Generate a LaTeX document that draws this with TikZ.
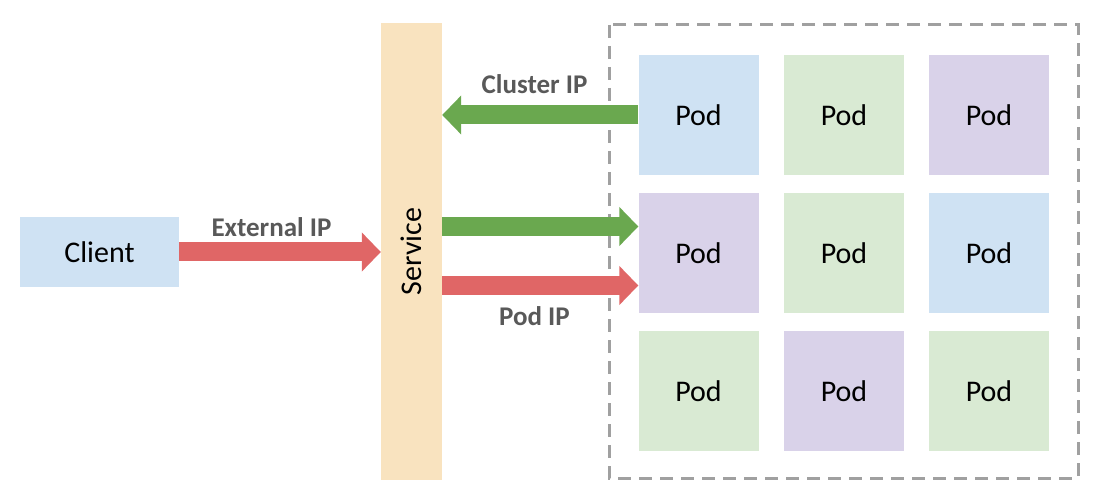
\documentclass[tikz,border=0pt]{standalone}
\usepackage{fontspec}
\setmainfont{Carlito}
\usetikzlibrary{arrows.meta,calc}
\definecolor{cblue}{HTML}{CFE2F3}
\definecolor{cgreen}{HTML}{D9EAD3}
\definecolor{cpurple}{HTML}{D9D2E9}
\definecolor{corange}{HTML}{F9E3BF}
\definecolor{ared}{HTML}{E06666}
\definecolor{agreen}{HTML}{6AA84F}
\definecolor{lblgray}{HTML}{595959}
\definecolor{dgray}{HTML}{A0A0A0}
\tikzset{
  box/.style={draw=none, minimum width=120pt, minimum height=120pt, inner sep=0pt, font=\fontsize{30}{36}\selectfont, text depth=0pt},
  fatarrow/.style={line width=19pt, -{Triangle[length=19pt,width=38pt]}},
  lbl/.style={font=\fontsize{27}{32}\selectfont\bfseries, text=lblgray, inner sep=0pt},
}
\begin{document}
\begin{tikzpicture}[x=1pt,y=-1pt]
\useasboundingbox (0,0) rectangle (1099,502);
% dashed cluster
\draw[dgray, line width=3pt, dash pattern=on 13pt off 8pt] (609,25) rectangle (1078,478);
% client and service
\node[box, fill=cblue, minimum width=159pt, minimum height=70pt] (client) at (99.5,252) {Client};
\node[fill=corange, minimum width=61pt, minimum height=457pt, inner sep=0pt] (service) at (411.5,251.5) {};
\node[rotate=90, font=\fontsize{30}{36}\selectfont] (servicetext) at (service.center) {Service};
% pods
\node[box, fill=cblue]   (p11) at (698.5,115) {Pod};
\node[box, fill=cgreen]  (p12) at (844,115) {Pod};
\node[box, fill=cpurple] (p13) at (989,115) {Pod};
\node[box, fill=cpurple] (p21) at (698.5,253) {Pod};
\node[box, fill=cgreen]  (p22) at (844,253) {Pod};
\node[box, fill=cblue]   (p23) at (989,253) {Pod};
\node[box, fill=cgreen]  (p31) at (698.5,391) {Pod};
\node[box, fill=cpurple] (p32) at (844,391) {Pod};
\node[box, fill=cgreen]  (p33) at (989,391) {Pod};
% arrows
\coordinate (g2) at (0,226.5);
\coordinate (r2) at (0,285.5);
\draw[fatarrow, ared] (client.east) -- (client.east -| service.west);
\draw[fatarrow, agreen] (p11.west) -- (p11.west -| service.east);
\draw[fatarrow, agreen] (service.east |- g2) -- (p21.west |- g2);
\draw[fatarrow, ared] (service.east |- r2) -- (p21.west |- r2);
% labels
\node[lbl] (lext) at (271.5,227) {External IP};
\node[lbl] (lclu) at (534.5,84) {Cluster IP};
\node[lbl] (lpod) at (534.5,316) {Pod IP};
\end{tikzpicture}
\end{document}
